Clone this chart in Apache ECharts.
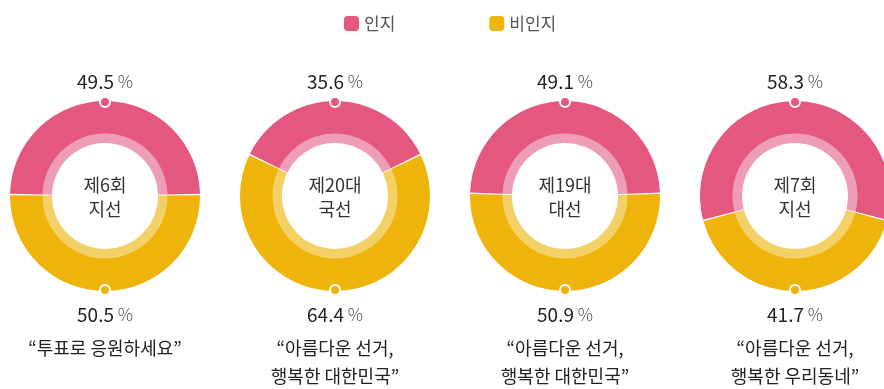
<!DOCTYPE html>
<html>
<head>
<meta charset="utf-8">
<script src="https://cdn.jsdelivr.net/npm/echarts@6/dist/echarts.min.js"></script>
<style>
  html, body { margin: 0; padding: 0; background: #fff; }
  #chart { width: 884px; height: 389px; }
</style>
</head>
<body>
<div id="chart"></div>
<script>
// Election campaign slogans: share of voters who recognised each slogan
const elections = ['제6회\n지선', '제20대\n국선', '제19대\n대선', '제7회\n지선'];
const slogans = [
  '“투표로 응원하세요”',
  '“아름다운 선거,\n행복한 대한민국”',
  '“아름다운 선거,\n행복한 대한민국”',
  '“아름다운 선거,\n행복한 우리동네”'
];
const aware = [49.5, 35.6, 49.1, 58.3];     // 인지
const unaware = [50.5, 64.4, 50.9, 41.7];   // 비인지
const seriesNames = ['인지', '비인지'];

const PINK = '#E4577F', PINK_LIGHT = '#EE9DB7';
const GOLD = '#EEB40B', GOLD_LIGHT = '#F3D167';
const FONT = '"Noto Sans CJK KR", "Noto Sans", sans-serif';

const centerY = 196;
const centersX = [105, 335, 565, 795];
const rOuter = 95, rMid = 62, rInner = 53;

const chart = echarts.init(document.getElementById('chart'), null, { renderer: 'canvas' });

const series = [];
const graphic = [];

aware.forEach((a, i) => {
  const cx = centersX[i];
  const startAngle = 90 + a * 1.8; // keep the 인지 slice centred on top
  const data = [
    { name: seriesNames[0], value: a },
    { name: seriesNames[1], value: unaware[i] }
  ];
  const ring = {
    type: 'pie',
    center: [cx, centerY],
    startAngle,
    clockwise: true,
    silent: true,
    padAngle: 0.9,
    minAngle: 0,
    label: { show: false },
    labelLine: { show: false },
    itemStyle: { borderWidth: 0 }
  };
  series.push(Object.assign({}, ring, {
    radius: [rMid, rOuter],
    color: [PINK, GOLD],
    data
  }));
  series.push(Object.assign({}, ring, {
    radius: [rInner, rMid + 0.5],
    legendHoverLink: false,
    color: [PINK_LIGHT, GOLD_LIGHT],
    data: data.map(d => ({ name: d.name + ' ', value: d.value }))
  }));

  // dots at the top and bottom of the ring
  graphic.push({
    type: 'circle', z: 10,
    shape: { cx, cy: centerY - rOuter + 1, r: 5 },
    style: { fill: PINK, stroke: '#fff', lineWidth: 2 }
  });
  graphic.push({
    type: 'circle', z: 10,
    shape: { cx, cy: centerY + rOuter - 1, r: 5 },
    style: { fill: GOLD, stroke: '#fff', lineWidth: 2 }
  });

  const pctRich = {
    n: { fontFamily: FONT, fontSize: 19, fill: '#222', fontWeight: 'normal' },
    p: { fontFamily: FONT, fontSize: 17, fill: '#555', fontWeight: 300 }
  };
  graphic.push({
    type: 'text', z: 10, x: cx, y: 82,
    style: {
      text: '{n|' + a.toFixed(1) + '}{p| %}', rich: pctRich,
      align: 'center', verticalAlign: 'middle'
    }
  });
  graphic.push({
    type: 'text', z: 10, x: cx, y: 315,
    style: {
      text: '{n|' + unaware[i].toFixed(1) + '}{p| %}', rich: pctRich,
      align: 'center', verticalAlign: 'middle'
    }
  });
  graphic.push({
    type: 'text', z: 10, x: cx, y: centerY + 1,
    style: {
      text: elections[i], font: '18px ' + FONT, fill: '#333',
      lineHeight: 24, align: 'center', verticalAlign: 'middle'
    }
  });
  graphic.push({
    type: 'text', z: 10, x: cx, y: 334,
    style: {
      text: slogans[i], font: '18px ' + FONT, fill: '#222',
      lineHeight: 28, align: 'center', verticalAlign: 'top'
    }
  });
});

chart.setOption({
  animation: false,
  backgroundColor: '#fff',
  legend: {
    data: seriesNames,
    left: 339,
    top: 10,
    icon: 'roundRect',
    itemWidth: 15,
    itemHeight: 15,
    itemGap: 94,
    selectedMode: false,
    textStyle: { fontFamily: FONT, fontSize: 17, color: '#555' }
  },
  series,
  graphic
});
</script>
</body>
</html>
